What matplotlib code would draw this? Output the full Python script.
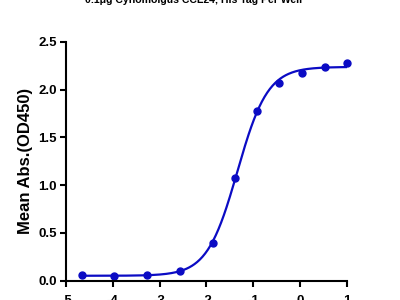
import numpy as np
import matplotlib
matplotlib.use("Agg")
import matplotlib.pyplot as plt

# log10 concentration and mean OD450
log_conc = [-4.66, -3.97, -3.28, -2.56, -1.87, -1.39, -0.92, -0.45, 0.04, 0.53, 1.0]
mean_abs = [0.053, 0.05, 0.06, 0.10, 0.39, 1.07, 1.78, 2.07, 2.18, 2.24, 2.28]

title = "0.1\u03bcg Cynomolgus CCL24, His Tag Per Well"
x_ticks = [-5, -4, -3, -2, -1, 0, 1]
y_ticks = [0.0, 0.5, 1.0, 1.5, 2.0, 2.5]
blue = "#0B0BC4"

plt.rcParams["font.family"] = ["Liberation Sans", "DejaVu Sans"]


def fit_4pl(x, y):
    # grid over logEC50 / hill, bottom and top by linear least squares
    x = np.asarray(x)
    y = np.asarray(y)
    best = None
    for ec in np.linspace(-2.5, 0, 251):
        for hill in np.linspace(0.5, 3, 126):
            s = 1.0 / (1.0 + 10 ** ((ec - x) * hill))
            A = np.column_stack([1 - s, s])
            coef, *_ = np.linalg.lstsq(A, y, rcond=None)
            err = np.sum((A @ coef - y) ** 2)
            if best is None or err < best[0]:
                best = (err, coef[0], coef[1], ec, hill)
    return best[1:]


bottom, top, ec50, hill = fit_4pl(log_conc, mean_abs)
xs = np.linspace(min(log_conc), max(log_conc), 300)
ys = bottom + (top - bottom) / (1 + 10 ** ((ec50 - xs) * hill))

fig = plt.figure(figsize=(4, 3), dpi=100)
ax = fig.add_axes([0.165, 0.065, 0.7025, 0.795])
ax.plot(xs, ys, color=blue, lw=1.6)
ax.plot(log_conc, mean_abs, "o", color=blue, ms=5, clip_on=False)

ax.set_xlim(-5, 1)
ax.set_ylim(0, 2.5)
ax.set_xticks(x_ticks)
ax.set_yticks(y_ticks)
ax.set_yticklabels([f"{v:.1f}" for v in y_ticks])
ax.set_xticklabels([str(v) for v in x_ticks])
for s in ["top", "right"]:
    ax.spines[s].set_visible(False)
for s in ["left", "bottom"]:
    ax.spines[s].set_linewidth(1.5)
ax.tick_params(width=1.5, length=4.5, labelsize=9.5)
ax.tick_params(axis="y", pad=2)
ax.tick_params(axis="x", pad=6)
for lab in ax.get_xticklabels() + ax.get_yticklabels():
    lab.set_fontweight("bold")
ax.set_ylabel("Mean Abs.(OD450)", fontsize=12, fontweight="bold", labelpad=4)

fig.text(0.485, 0.99, title, ha="center", va="baseline", fontsize=7.6,
         fontweight="bold")

fig.savefig("out.png", dpi=100)
